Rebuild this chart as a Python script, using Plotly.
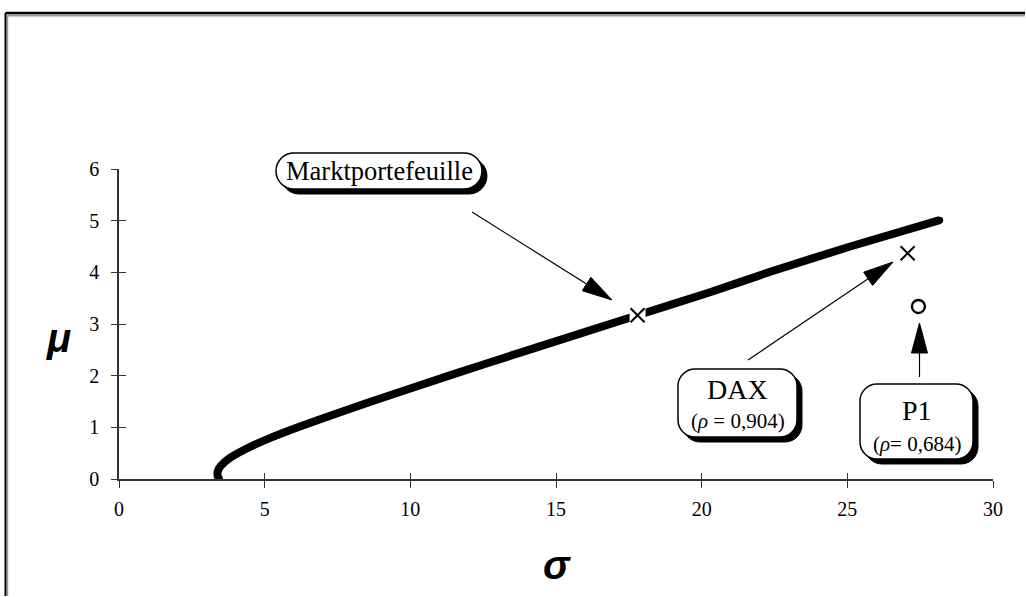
import math
import plotly.graph_objects as go

# ---------------- data ----------------
frontier_sigma = [3.43, 3.39, 3.38, 3.39, 3.49, 3.79, 4.42, 5.22, 6.14, 7.37, 8.66,
                  11.33, 14.07, 17.80, 20.21, 22.30, 25.10, 28.17]
frontier_mu = [0.00, 0.05, 0.10, 0.15, 0.25, 0.40, 0.60, 0.80, 1.00, 1.25, 1.50,
               2.00, 2.50, 3.17, 3.60, 4.00, 4.50, 5.01]

market_sigma, market_mu = [17.80], [3.17]
dax_sigma, dax_mu = [27.07], [4.37]
p1_sigma, p1_mu = [27.44], [3.34]

x_tick_vals = [0, 5, 10, 15, 20, 25, 30]
y_tick_vals = [0, 1, 2, 3, 4, 5, 6]

label_market = "Marktportefeuille"
label_dax = "DAX"
label_dax_rho = "(<i>ρ</i> = 0,904)"
label_p1 = "P1"
label_p1_rho = "(<i>ρ</i>= 0,684)"

# ---------------- layout geometry ----------------
W, H = 1026, 597
ML, MR, MT, MB = 119, 33, 169, 118
PW, PH = W - ML - MR, H - MT - MB


def px(x):
    return (x - ML) / PW


def py(y):
    return (H - MB - y) / PH


def pt(x, y):
    return f"{px(x):.5f},{py(y):.5f}"


def rrect_path(x0, y0, x1, y1, r):
    k = 0.5523 * r
    p = f"M {pt(x0 + r, y0)} L {pt(x1 - r, y0)} "
    p += f"C {pt(x1 - r + k, y0)} {pt(x1, y0 + r - k)} {pt(x1, y0 + r)} "
    p += f"L {pt(x1, y1 - r)} "
    p += f"C {pt(x1, y1 - r + k)} {pt(x1 - r + k, y1)} {pt(x1 - r, y1)} "
    p += f"L {pt(x0 + r, y1)} "
    p += f"C {pt(x0 + r - k, y1)} {pt(x0, y1 - r + k)} {pt(x0, y1 - r)} "
    p += f"L {pt(x0, y0 + r)} "
    p += f"C {pt(x0, y0 + r - k)} {pt(x0 + r - k, y0)} {pt(x0 + r, y0)} Z"
    return p


shapes = []


def box(x0, y0, x1, y1, r, off=5):
    shapes.append(dict(type="path", xref="paper", yref="paper",
                       path=rrect_path(x0 + off, y0 + off, x1 + off, y1 + off, r),
                       fillcolor="black", line=dict(color="black", width=1)))
    shapes.append(dict(type="path", xref="paper", yref="paper",
                       path=rrect_path(x0, y0, x1, y1, r),
                       fillcolor="white", line=dict(color="black", width=1.5)))


def arrow(tx, ty, hx, hy, L=30, Wd=16):
    dx, dy = hx - tx, hy - ty
    n = math.hypot(dx, dy)
    ux, uy = dx / n, dy / n
    bx, by = hx - ux * L, hy - uy * L
    nx, ny = -uy, ux
    shapes.append(dict(type="line", xref="paper", yref="paper",
                       x0=px(tx), y0=py(ty), x1=px(bx), y1=py(by),
                       line=dict(color="black", width=1.2)))
    path = (f"M {pt(hx, hy)} L {pt(bx + nx * Wd / 2, by + ny * Wd / 2)} "
            f"L {pt(bx - nx * Wd / 2, by - ny * Wd / 2)} Z")
    shapes.append(dict(type="path", xref="paper", yref="paper", path=path,
                       fillcolor="black", line=dict(color="black", width=1)))


def fline(x0, y0, x1, y1, color, width):
    shapes.append(dict(type="line", xref="paper", yref="paper",
                       x0=px(x0), y0=py(y0), x1=px(x1), y1=py(y1),
                       line=dict(color=color, width=width)))


# outer frame: only the top edge and the left edge fall inside the window
fline(7.5, 15.5, W - 1, 15.5, "#9a9a9a", 2)
fline(7.5, 15.5, 7.5, H - 1, "#9a9a9a", 1.5)
fline(5.5, 13, W - 1, 13, "black", 2.5)
fline(5.5, 13, 5.5, H - 1, "black", 2)

# label boxes
box(276, 153, 482, 189, 18)
box(678, 369, 797, 437, 17)
box(860, 384, 973, 459, 17)

# arrows
arrow(472, 212, 612, 300)
arrow(748, 360, 893, 262)
arrow(919.5, 377, 919.5, 323)

fig = go.Figure()

fig.add_trace(go.Scatter(x=frontier_sigma, y=frontier_mu, mode="lines",
                         line=dict(color="black", width=8, shape="spline", smoothing=0.6),
                         hoverinfo="skip", showlegend=False))
fig.add_trace(go.Scatter(x=frontier_sigma[:1], y=frontier_mu[:1], mode="markers",
                         marker=dict(symbol="circle", size=8, color="black"),
                         hoverinfo="skip", showlegend=False))
fig.add_trace(go.Scatter(x=frontier_sigma[-1:], y=frontier_mu[-1:], mode="markers",
                         marker=dict(symbol="circle", size=7, color="black"),
                         hoverinfo="skip", showlegend=False))
fig.add_trace(go.Scatter(x=market_sigma, y=market_mu, mode="markers",
                         marker=dict(symbol="square", size=16, color="white",
                                     line=dict(width=0)),
                         showlegend=False, hoverinfo="skip"))
fig.add_trace(go.Scatter(x=market_sigma, y=market_mu, mode="markers",
                         marker=dict(symbol="x-thin", size=14,
                                     line=dict(width=2, color="black")),
                         showlegend=False))
fig.add_trace(go.Scatter(x=dax_sigma, y=dax_mu, mode="markers",
                         marker=dict(symbol="x-thin", size=14,
                                     line=dict(width=2, color="black")),
                         showlegend=False))
fig.add_trace(go.Scatter(x=p1_sigma, y=p1_mu, mode="markers",
                         marker=dict(symbol="circle-open", size=13, color="black",
                                     line=dict(width=2.4, color="black")),
                         showlegend=False))
# helper trace for the inner-tick overlay axes
fig.add_trace(go.Scatter(x=[None], y=[None], xaxis="x2", yaxis="y2",
                         showlegend=False, hoverinfo="skip"))

serif = "Liberation Serif, Times New Roman, serif"
sans = "Liberation Sans, Arial, sans-serif"
tick_font = dict(family=serif, size=20, color="black")
axis_col = "#333333"

annotations = [
    dict(x=px(379), y=py(171), xref="paper", yref="paper", text=label_market,
         showarrow=False, font=dict(family=serif, size=26.5, color="black"),
         xanchor="center", yanchor="middle"),
    dict(x=px(737.5), y=py(389), xref="paper", yref="paper", text=label_dax,
         showarrow=False, font=dict(family=serif, size=28, color="black"),
         xanchor="center", yanchor="middle"),
    dict(x=px(737.5), y=py(421), xref="paper", yref="paper", text=label_dax_rho,
         showarrow=False, font=dict(family=serif, size=21, color="black"),
         xanchor="center", yanchor="middle"),
    dict(x=px(916.5), y=py(410), xref="paper", yref="paper", text=label_p1,
         showarrow=False, font=dict(family=serif, size=28, color="black"),
         xanchor="center", yanchor="middle"),
    dict(x=px(916.5), y=py(444), xref="paper", yref="paper", text=label_p1_rho,
         showarrow=False, font=dict(family=serif, size=21, color="black"),
         xanchor="center", yanchor="middle"),
    dict(x=px(58), y=py(338), xref="paper", yref="paper", text="<b><i>μ</i></b>",
         showarrow=False, font=dict(family=sans, size=40, color="black"),
         xanchor="center", yanchor="middle"),
    dict(x=px(557), y=py(565), xref="paper", yref="paper", text="<b><i>σ</i></b>",
         showarrow=False, font=dict(family=sans, size=40, color="black"),
         xanchor="center", yanchor="middle"),
]

fig.update_layout(
    width=W, height=H,
    margin=dict(l=ML, r=MR, t=MT, b=MB),
    paper_bgcolor="white", plot_bgcolor="white",
    showlegend=False,
    xaxis=dict(range=[0, 30], tickvals=x_tick_vals, ticks="outside", ticklen=7,
               tickwidth=1, tickcolor=axis_col, showline=True, linecolor=axis_col,
               linewidth=1.5, showgrid=False, zeroline=False, tickfont=tick_font,
               ticklabelstandoff=4, fixedrange=True),
    yaxis=dict(range=[0, 6], tickvals=y_tick_vals, ticks="outside", ticklen=6,
               tickwidth=1, tickcolor=axis_col, showline=True, linecolor=axis_col,
               linewidth=1.5, showgrid=False, zeroline=False, tickfont=tick_font,
               ticklabelstandoff=8, fixedrange=True),
    xaxis2=dict(range=[0, 30], tickvals=x_tick_vals, ticks="inside", ticklen=6,
                tickwidth=1, tickcolor=axis_col, showticklabels=False, showline=False,
                showgrid=False, zeroline=False, overlaying="x", anchor="y2", side="bottom"),
    yaxis2=dict(range=[0, 6], tickvals=y_tick_vals, ticks="inside", ticklen=7,
                tickwidth=1, tickcolor=axis_col, showticklabels=False, showline=False,
                showgrid=False, zeroline=False, overlaying="y", anchor="x2", side="left"),
    shapes=shapes,
    annotations=annotations,
)

fig.write_html("out.html", config={"displayModeBar": False, "responsive": False})
